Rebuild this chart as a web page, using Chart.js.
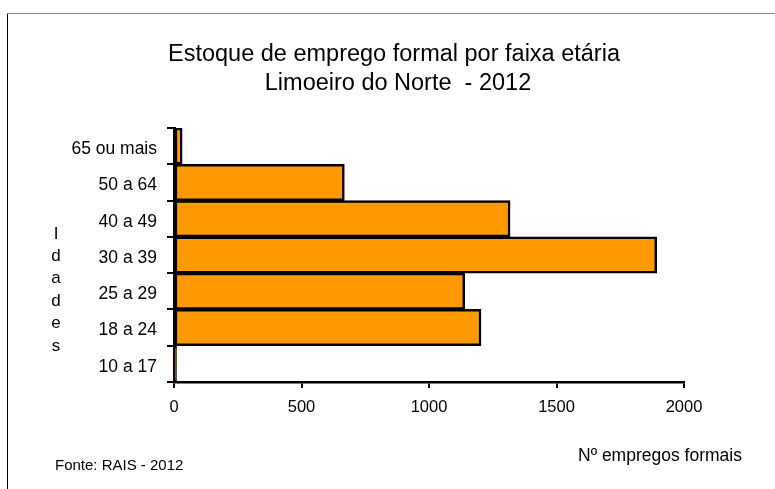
<!DOCTYPE html>
<html>
<head>
<meta charset="utf-8">
<script src="https://cdn.jsdelivr.net/npm/chart.js@4"></script>
<style>
html,body{margin:0;padding:0;background:#fff;}
#wrap{width:775px;height:489px;position:relative;}
</style>
</head>
<body>
<div id="wrap"><canvas id="c" width="775" height="489"></canvas></div>
<script>
const categories = ['65 ou mais', '50 a 64', '40 a 49', '30 a 39', '25 a 29', '18 a 24', '10 a 17'];
const empregos = [32, 668, 1318, 1893, 1140, 1204, 10];
const xTicks = [0, 500, 1000, 1500, 2000];
const titleLines = ['Estoque de emprego formal por faixa etária', 'Limoeiro do Norte  - 2012'];
const yTitle = 'Idades';
const xTitle = 'Nº empregos formais';
const sourceText = 'Fonte: RAIS - 2012';

const FONT = '"Liberation Sans", Arial, sans-serif';

const decor = {
  id: 'decor',
  beforeDraw(chart) {
    const ctx = chart.ctx;
    ctx.save();
    ctx.fillStyle = '#fff';
    ctx.fillRect(0, 0, chart.width, chart.height);
    ctx.lineWidth = 1;
    ctx.strokeStyle = '#000';
    ctx.beginPath(); ctx.moveTo(7.5, 13); ctx.lineTo(7.5, chart.height); ctx.stroke();
    ctx.strokeStyle = '#888';
    ctx.beginPath(); ctx.moveTo(7, 13.5); ctx.lineTo(chart.width, 13.5); ctx.stroke();
    ctx.restore();
  },
  afterDraw(chart) {
    const ctx = chart.ctx;
    ctx.save();
    ctx.fillStyle = '#000';
    ctx.textAlign = 'center';
    ctx.textBaseline = 'alphabetic';
    ctx.font = '23.5px ' + FONT;
    ctx.fillText(titleLines[0], 394, 61);
    ctx.fillText(titleLines[1], 398, 90);
    ctx.font = '17px ' + FONT;
    ctx.textBaseline = 'middle';
    const letters = yTitle.split('');
    letters.forEach((ch, i) => ctx.fillText(ch, 56, 234 + i * 22.4));
    ctx.textAlign = 'left';
    ctx.font = '17.5px ' + FONT;
    ctx.fillText(xTitle, 578, 456);
    ctx.font = '15px ' + FONT;
    ctx.fillText(sourceText, 55, 466);
    ctx.restore();
  }
};

new Chart(document.getElementById('c'), {
  type: 'bar',
  data: {
    labels: categories,
    datasets: [{
      data: empregos,
      backgroundColor: '#FF9900',
      borderColor: '#000',
      borderWidth: 2.5,
      borderSkipped: false,
      barPercentage: 1,
      categoryPercentage: 1
    }]
  },
  options: {
    indexAxis: 'y',
    responsive: false,
    animation: false,
    devicePixelRatio: 1,
    layout: { padding: { top: 128, right: 91, bottom: 0, left: 0 } },
    plugins: { legend: { display: false }, title: { display: false }, tooltip: { enabled: false } },
    scales: {
      x: {
        type: 'linear',
        min: xTicks[0],
        max: xTicks[xTicks.length - 1],
        afterBuildTicks(scale) { scale.ticks = xTicks.map(v => ({ value: v })); },
        afterFit(scale) { scale.height = 107; },
        ticks: { color: '#000', font: { family: FONT, size: 16.5 }, padding: 10, maxRotation: 0,
                 callback: (v) => String(v) },
        grid: { drawOnChartArea: false, drawTicks: true, tickLength: 6, color: '#000', lineWidth: 2 },
        border: { display: true, color: '#000', width: 2.5 }
      },
      y: {
        afterFit(scale) { scale.width = 174; },
        ticks: { color: '#000', font: { family: FONT, size: 17.5 }, padding: 10, labelOffset: 3 },
        grid: { drawOnChartArea: false, drawTicks: true, tickLength: 7, color: '#000', lineWidth: 2, offset: true },
        border: { display: true, color: '#000', width: 3 }
      }
    }
  },
  plugins: [decor]
});
</script>
</body>
</html>
